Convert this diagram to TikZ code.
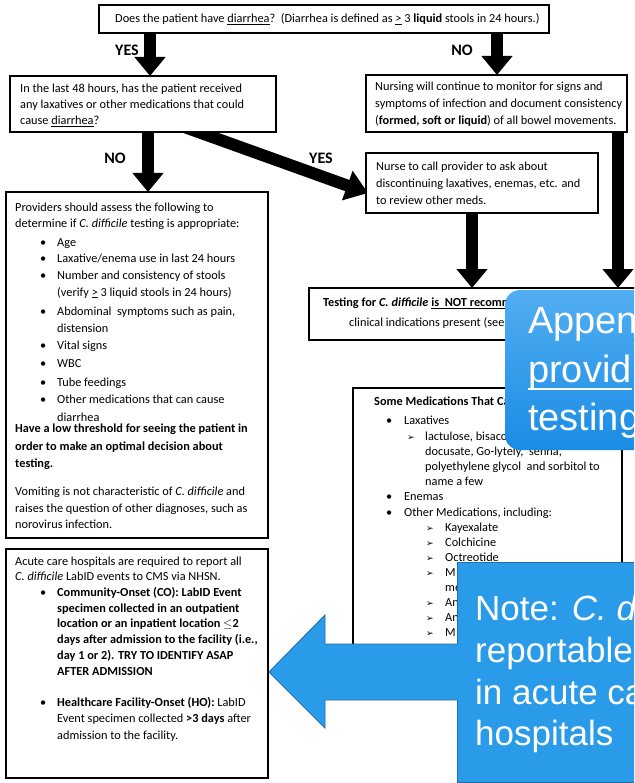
\documentclass[tikz,border=0pt]{standalone}
\usepackage{fontspec}
\setmainfont{Carlito}
\newfontfamily\arialf{Liberation Sans}
\newfontfamily\djv{DejaVu Sans}
\usetikzlibrary{arrows.meta}
\definecolor{callblue}{RGB}{42,155,232}
\definecolor{callborder}{RGB}{38,108,172}
\definecolor{apptop}{RGB}{82,174,242}
\definecolor{appbot}{RGB}{26,140,228}
\newcommand\Tx[4]{\node[txt] (#1) at (#2,#3) {#4};}
\newcommand\Bu[3]{\node[txt] (#1) at (#2,#3) {\textbullet};}
\newcommand\Ar[3]{\node[txt,font=\djv\fontsize{9}{9}\selectfont] (#1) at (#2,#3) {➢};}
\begin{document}
\begin{tikzpicture}[x=1pt,y=-1pt,
  box/.style={draw=black,line width=1.8pt,fill=white,inner sep=0pt,outer sep=0pt,anchor=north west},
  txt/.style={inner sep=0pt,anchor=base west,font=\fontsize{12.3}{14}\selectfont},
  lbl/.style={inner sep=0pt,font=\bfseries\fontsize{16}{16}\selectfont},
  blk/.style={line width=12pt,draw=black,-{Triangle[width=30pt,length=19pt]}},
  big/.style={inner sep=0pt,anchor=base west,text=white,font=\arialf\fontsize{38}{38}\selectfont},
  note/.style={inner sep=0pt,anchor=base west,text=white,font=\arialf\fontsize{35}{35}\selectfont}]
\useasboundingbox (0,0) rectangle (634,783);
\clip (0,0) rectangle (634,783);
\fill[white] (0,0) rectangle (634,783);

% ---------- diagonal arrow (under box 2) ----------
\coordinate (ds) at (176,124);
\coordinate (de) at (368,193);
\draw[line width=12pt,-{Triangle[width=30pt,length=22pt]}] (ds) -- (de);

% ---------- boxes ----------
\node[box,minimum width=450pt,minimum height=28pt] (b1) at (99,5) {};
\node[box,minimum width=266pt,minimum height=56pt] (b2) at (10,76) {};
\node[box,minimum width=261pt,minimum height=57pt] (b3) at (366,75) {};
\node[box,minimum width=262pt,minimum height=346pt] (b5) at (6,192) {};
\node[box,minimum width=232pt,minimum height=60pt] (b6) at (366,153) {};
\node[box,minimum width=345pt,minimum height=52pt] (b8) at (309,288) {};
\node[box,minimum width=269pt,minimum height=258pt] (bm) at (353,388) {};
\node[box,minimum width=262pt,minimum height=229pt] (b9) at (6,549) {};

% ---------- vertical arrows ----------
\coordinate (xa) at (150,0);
\coordinate (xb) at (497,0);
\coordinate (xc) at (148,0);
\coordinate (xd) at (472,0);
\coordinate (xe) at (618,0);
\draw[blk] (b1.south -| xa) -- (b2.north -| xa);
\draw[blk] (b1.south -| xb) -- (b3.north -| xb);
\draw[blk] (b2.south -| xc) -- (b5.north -| xc);
\draw[blk] (b6.south -| xd) -- (b8.north -| xd);
\draw[blk] (b3.south -| xe) -- (b8.north -| xe);

% ---------- labels ----------
\node[lbl] (yes1) at (127,50) {YES};
\node[lbl] (no1) at (462,50) {NO};
\node[lbl] (no2) at (115,158) {NO};
\node[lbl] (yes2) at (321,158) {YES};

% ---------- box texts ----------
\Tx{t1}{115}{22.5}{Does the patient have \underline{diarrhea}?\ \ (Diarrhea is defined as \underline{>} 3 \textbf{liquid} stools in 24 hours.)}

\Tx{t2a}{20}{92.5}{In the last 48 hours, has the patient received}
\Tx{t2b}{20}{108.5}{any laxatives or other medications that could}
\Tx{t2c}{20}{124.5}{cause \underline{diarrhea}?}

\Tx{t3a}{375}{90.5}{Nursing will continue to monitor for signs and}
\Tx{t3b}{375}{107.5}{symptoms of infection and document consistency}
\Tx{t3c}{375}{124.5}{(\textbf{formed, soft or liquid}) of all bowel movements.}

\Tx{t6a}{376}{170.5}{Nurse to call provider to ask about}
\Tx{t6b}{376}{187.5}{discontinuing laxatives, enemas, etc. and}
\Tx{t6c}{376}{205}{to review other meds.}

\Tx{t8a}{323}{306.5}{\textbf{Testing for \textit{C. difficile} \underline{is\ \ NOT recommended}}}
\Tx{t8b}{349}{326.5}{clinical indications present (see box below)}

% box 5
\Tx{t5a}{15}{211.5}{Providers should assess the following to}
\Tx{t5b}{15}{227.5}{determine if \textit{C. difficile} testing is appropriate:}
\Bu{u1}{40}{246.5}\Tx{t5c}{57}{246.5}{Age}
\Bu{u2}{40}{262}\Tx{t5d}{57}{262}{Laxative/enema use in last 24 hours}
\Bu{u3}{40}{279.5}\Tx{t5e}{57}{279.5}{Number and consistency of stools}
\Tx{t5f}{57}{296}{(verify \underline{>} 3 liquid stools in 24 hours)}
\Bu{u4}{40}{315}\Tx{t5g}{57}{315}{Abdominal\ \ symptoms such as pain,}
\Tx{t5h}{57}{332}{distension}
\Bu{u5}{40}{349}\Tx{t5i}{57}{349}{Vital signs}
\Bu{u6}{40}{367.5}\Tx{t5j}{57}{367.5}{WBC}
\Bu{u7}{40}{386}\Tx{t5k}{57}{386}{Tube feedings}
\Bu{u8}{40}{403.5}\Tx{t5l}{57}{403.5}{Other medications that can cause}
\Tx{t5m}{57}{421}{diarrhea}
\Tx{t5n}{15}{432.5}{\textbf{Have a low threshold for seeing the patient in}}
\Tx{t5o}{15}{450.5}{\textbf{order to make an optimal decision about}}
\Tx{t5p}{15}{467.5}{\textbf{testing.}}
\Tx{t5q}{15}{495.5}{Vomiting is not characteristic of \textit{C. difficile} and}
\Tx{t5r}{15}{512.5}{raises the question of other diagnoses, such as}
\Tx{t5s}{15}{528.5}{norovirus infection.}

% medications box
\Tx{m0}{374}{405.5}{\textbf{Some Medications That Can}}
\Bu{mu1}{386}{424.5}\Tx{m1}{404}{424.5}{Laxatives}
\Ar{ma1}{407}{440}\Tx{m2}{425}{440}{lactulose, bisacodyl,}
\Tx{m3}{425}{455}{docusate, Go-lytely,\ \ senna,}
\Tx{m4}{425}{470}{polyethylene glycol\ \ and sorbitol to}
\Tx{m5}{425}{485}{name a few}
\Bu{mu2}{386}{500.5}\Tx{m6}{404}{500.5}{Enemas}
\Bu{mu3}{386}{516}\Tx{m7}{404}{516}{Other Medications, including:}
\Ar{ma2}{426}{531.5}\Tx{m8}{445}{531.5}{Kayexalate}
\Ar{ma3}{426}{546.5}\Tx{m9}{445}{546.5}{Colchicine}
\Ar{ma4}{426}{561.5}\Tx{m10}{445}{561.5}{Octreotide}
\Ar{ma5}{426}{576.5}\Tx{m11}{445}{576.5}{M}
\Tx{m12}{445}{591.5}{me}
\Ar{ma6}{426}{606.5}\Tx{m13}{445}{606.5}{An}
\Ar{ma7}{426}{621.5}\Tx{m14}{445}{621.5}{An}
\Ar{ma8}{426}{636.5}\Tx{m15}{445}{636.5}{M}

% box 9
\Tx{t9a}{15}{565}{Acute care hospitals are required to report all}
\Tx{t9b}{15}{580.5}{\textit{C. difficile} LabID events to CMS via NHSN.}
\Bu{v1}{40}{596.5}\Tx{t9c}{57}{596.5}{\textbf{Community-Onset (CO): LabID Event}}
\Tx{t9d}{57}{612}{\textbf{specimen collected in an outpatient}}
\Tx{t9e}{57}{627.5}{\textbf{location or an inpatient location $\le$2}}
\Tx{t9f}{57}{643.5}{\textbf{days after admission to the facility (i.e.,}}
\Tx{t9g}{57}{659.5}{\textbf{day 1 or 2). TRY TO IDENTIFY ASAP}}
\Tx{t9h}{57}{675.5}{\textbf{AFTER ADMISSION}}
\Bu{v2}{40}{706.5}\Tx{t9i}{57}{706.5}{\textbf{Healthcare Facility-Onset (HO):} LabID}
\Tx{t9j}{57}{722.5}{Event specimen collected \textbf{>3 days} after}
\Tx{t9k}{57}{739}{admission to the facility.}

% ---------- blue callouts ----------
\shade[top color=apptop,bottom color=appbot,rounded corners=15pt] (505,290) rectangle (660,450);
\node[big] (ap1) at (528,333) {Appen};
\node[big] (ap2) at (528,382) {provid};
\node[big] (ap3) at (528,430) {testing};
\draw[white,line width=2.2pt] ([yshift=-7pt]ap2.base west) -- ([yshift=-7pt]ap2.base east);

\node[draw=callborder,fill=callblue,line width=1pt,inner sep=0pt,anchor=north west,minimum width=200pt,minimum height=220pt] (nt) at (457,562) {};
\fill[callblue] (470,644) -- (325,644) -- (325,615) -- (269,672) -- (325,728) -- (325,700) -- (470,700) -- cycle;
\draw[callborder,line width=0.9pt] (457,644) -- (325,644) -- (325,615) -- (269,672) -- (325,728) -- (325,700) -- (457,700);
\node[note] (n1) at (475,620) {Note: \textit{C. di}};
\node[note] (n2) at (475,662) {reportable};
\node[note] (n3) at (475,704) {in acute ca};
\node[note] (n4) at (475,745) {hospitals};
\end{tikzpicture}
\end{document}
